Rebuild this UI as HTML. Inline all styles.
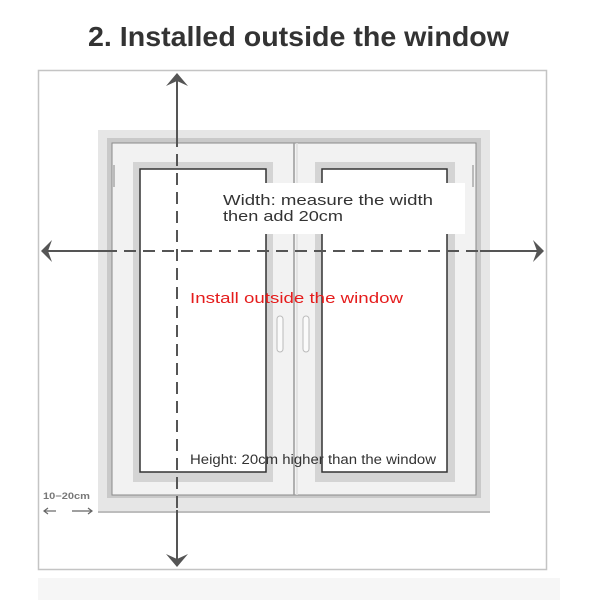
<!DOCTYPE html>
<html><head><meta charset="utf-8"><style>html,body{margin:0;padding:0;background:#fff}svg{display:block}</style></head>
<body>
<svg width="600" height="600" viewBox="0 0 600 600" xmlns="http://www.w3.org/2000/svg" font-family="Liberation Sans, sans-serif">
<rect width="600" height="600" fill="#fff"/>
<text x="88" y="46" font-size="28" font-weight="bold" fill="#333" textLength="421" lengthAdjust="spacingAndGlyphs">2. Installed outside the window</text>
<rect x="38.5" y="70.5" width="508" height="499" fill="#fff" stroke="#c4c4c4" stroke-width="1.5"/>
<rect x="38" y="578" width="522" height="22" fill="#f6f6f6"/>
<rect x="98" y="130" width="392" height="382" fill="#e6e6e6"/>
<rect x="107" y="138" width="374" height="360" fill="#c9c9c9"/>
<rect x="112" y="143" width="364" height="352" fill="#f2f2f2" stroke="#8a8a8a" stroke-width="1"/>
<line x1="98" y1="512" x2="490" y2="512" stroke="#bdbdbd" stroke-width="2"/>
<line x1="294" y1="143" x2="294" y2="495" stroke="#9a9a9a" stroke-width="1.5"/>
<line x1="297" y1="143" x2="297" y2="495" stroke="#dedede" stroke-width="1.5"/>
<rect x="133" y="162" width="140" height="320" fill="#d4d4d4"/>
<rect x="140" y="169" width="126" height="303" fill="#fff" stroke="#333" stroke-width="1.5"/>
<rect x="315" y="162" width="140" height="320" fill="#d4d4d4"/>
<rect x="322" y="169" width="125" height="303" fill="#fff" stroke="#333" stroke-width="1.5"/>
<rect x="277" y="316" width="6" height="36" rx="3" fill="#fafafa" stroke="#bbb"/>
<rect x="303" y="316" width="6" height="36" rx="3" fill="#fafafa" stroke="#bbb"/>
<rect x="113" y="165" width="2" height="22" fill="#bbb"/>
<rect x="472" y="165" width="2" height="22" fill="#bbb"/>
<rect x="216" y="183" width="249" height="51" fill="#fff"/>
<text x="223" y="205" font-size="15" fill="#333" textLength="210" lengthAdjust="spacingAndGlyphs">Width: measure the width</text>
<text x="223" y="221" font-size="15" fill="#333" textLength="120" lengthAdjust="spacingAndGlyphs">then add 20cm</text>
<line x1="48" y1="251" x2="537" y2="251" stroke="#555" stroke-width="2" stroke-dasharray="12,7"/>
<line x1="42" y1="251" x2="110" y2="251" stroke="#555" stroke-width="2"/>
<line x1="480" y1="251" x2="540" y2="251" stroke="#555" stroke-width="2"/>
<path d="M41,251 L52,240 L48,251 L52,262 Z" fill="#555"/>
<path d="M544,251 L533,240 L537,251 L533,262 Z" fill="#555"/>
<line x1="177" y1="78" x2="177" y2="562" stroke="#555" stroke-width="2" stroke-dasharray="12,7"/>
<line x1="177" y1="78" x2="177" y2="138" stroke="#555" stroke-width="2"/>
<line x1="177" y1="510" x2="177" y2="565" stroke="#555" stroke-width="2"/>
<path d="M177,73 L166,86 L177,81 L188,86 Z" fill="#555"/>
<path d="M177,567 L166,554 L177,559 L188,554 Z" fill="#555"/>
<text x="190" y="303" font-size="15" fill="#e51c1c" textLength="213" lengthAdjust="spacingAndGlyphs">Install outside the window</text>
<text x="190" y="464" font-size="13.5" fill="#333" textLength="246" lengthAdjust="spacingAndGlyphs">Height: 20cm higher than the window</text>
<text x="43" y="499" font-size="9" fill="#777" font-weight="bold" textLength="47" lengthAdjust="spacingAndGlyphs">10−20cm</text>
<g stroke="#666" stroke-width="1.2" fill="none">
<line x1="44" y1="511" x2="56" y2="511"/><path d="M48,508 L44,511 L48,514"/>
<line x1="72" y1="511" x2="92" y2="511"/><path d="M88,508 L92,511 L88,514"/>
</g>
</svg>
</body></html>
